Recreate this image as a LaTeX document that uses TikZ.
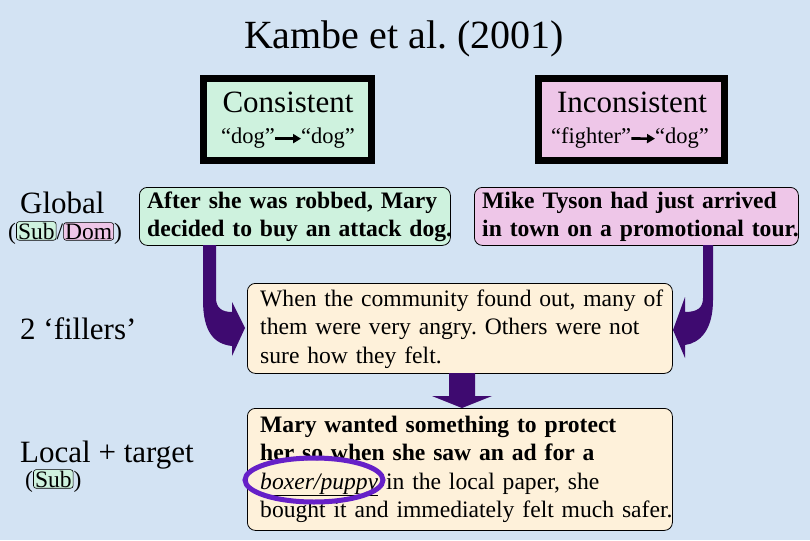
\documentclass[tikz,border=0pt]{standalone}
\usepackage{fontspec}
\setmainfont{Liberation Serif}
\usetikzlibrary{arrows.meta}
\frenchspacing
\definecolor{bgblue}{RGB}{211,227,243}
\definecolor{mint}{RGB}{206,242,222}
\definecolor{pinkish}{RGB}{238,198,232}
\definecolor{cream}{RGB}{254,241,218}
\definecolor{arrpurple}{RGB}{62,10,112}
\definecolor{violet}{RGB}{102,32,200}
\tikzset{
  frame/.style={draw=black, line width=7pt, inner sep=0, anchor=center},
  tbox/.style={draw=black, line width=0.8pt, rounded corners=8pt, inner sep=0, anchor=north west},
  txt/.style={inner sep=0, anchor=base west, align=left, text width=460pt, font=\fontsize{23.6}{28.5}\selectfont},
  head/.style={inner sep=0, anchor=base, font=\fontsize{31}{36}\selectfont},
  quo/.style={inner sep=0, anchor=base west, font=\fontsize{22.5}{26}\selectfont},
  lbl/.style={inner sep=0, anchor=base west, font=\fontsize{31}{36}\selectfont},
  sml/.style={inner sep=0, anchor=base west, font=\fontsize{23.5}{27}\selectfont},
  tag/.style={draw=black, line width=0.6pt, rounded corners=2.5pt, inner xsep=1.5pt, inner ysep=1pt, anchor=base west, font=\fontsize{23.5}{27}\selectfont},
  qarrow/.style={-{Triangle[length=8pt,width=9pt]}, line width=2.6pt, black},
  bigarrow/.style={fill=arrpurple},
}
\begin{document}
\begin{tikzpicture}[x=1pt,y=-1pt]
\fill[bgblue] (0,0) rectangle (810,540);
\useasboundingbox (0,0) rectangle (810,540);

% title
\node[inner sep=0, anchor=base, font=\fontsize{40}{46}\selectfont] (title) at (404,49) {Kambe et al. (2001)};

% header frames
\node[frame, fill=mint, minimum width=168, minimum height=82] (cons) at (287.5,119.5) {};
\node[head] (consT) at (288,113) {Consistent};
\node[quo] (cd1) at (221,144) {“dog”};
\node[quo] (cd2) at (301,144) {“dog”};
\draw[qarrow] (cd1.east) -- (cd2.west);

\node[frame, fill=pinkish, minimum width=186, minimum height=82] (incons) at (631.5,119.5) {};
\node[head] (inconsT) at (632,113) {Inconsistent};
\node[quo] (if1) at (551,144) {“fighter”};
\node[quo] (id1) at (655,144) {“dog”};
\draw[qarrow] (if1.east) -- (id1.west);

% left labels
\node[lbl] (global) at (20,213) {Global};
\node[sml] (gpo) at (8,239) {(};
\node[tag, fill=mint] (gsub) at (gpo.base east) {Sub};
\node[sml] (gsl) at (gsub.base east) {/};
\node[tag, fill=pinkish] (gdom) at (gsl.base east) {Dom};
\node[sml] (gpc) at (gdom.base east) {)};

\node[lbl] (fillers) at (20,339) {2 ‘fillers’};

\node[lbl] (local) at (20,462) {Local + target};
\node[sml] (lpo) at (25,487) {(};
\node[tag, fill=mint] (lsub) at (lpo.base east) {Sub};
\node[sml] (lpc) at (lsub.base east) {)};

% context boxes
\node[tbox, fill=mint, minimum width=311, minimum height=58] (after) at (139,187) {};
\node[txt] (afterT) at (147,208) {\textbf{After she was robbed, Mary}\\\textbf{decided to buy an attack dog.}};

\node[tbox, fill=pinkish, minimum width=324, minimum height=58] (mike) at (474,187) {};
\node[txt] (mikeT) at (482,208) {\textbf{Mike Tyson had just arrived}\\\textbf{in town on a promotional tour.}};

\node[tbox, fill=cream, minimum width=425, minimum height=90] (filler) at (247,283) {};
\node[txt] (fillerT) at (260,306) {When the community found out, many of\\them were very angry. Others were not\\sure how they felt.};

\node[tbox, fill=cream, minimum width=425, minimum height=122] (target) at (247,408) {};
\node[txt] (targetT) at (260,432) {\textbf{Mary wanted something to protect}\\\textbf{her so when she saw an ad for a}\\\underline{\textit{boxer/puppy}} in the local paper, she\\bought it and immediately felt much safer.};

% purple arrows
\fill[bigarrow] (203,245) -- (216,245) -- (216,298)
  .. controls (216,308) and (222,312) .. (232,312)
  -- (232,302) -- (245,328) -- (232,356) -- (232,346)
  .. controls (214,344) and (203,332) .. (203,300) -- cycle;

\fill[bigarrow] (703,245) -- (713,245) -- (713,300)
  .. controls (713,330) and (700,343) .. (685,345)
  -- (685,358) -- (673,330) -- (685,297) -- (685,312)
  .. controls (697,312) and (703,308) .. (703,298) -- cycle;

\fill[bigarrow] (449,373) -- (475,373) -- (475,396) -- (492,396)
  -- (462,408) -- (432,396) -- (449,396) -- cycle;

% highlight ellipse
\draw[violet, line width=5pt] (314,480) ellipse [x radius=69pt, y radius=22pt];
\end{tikzpicture}
\end{document}
